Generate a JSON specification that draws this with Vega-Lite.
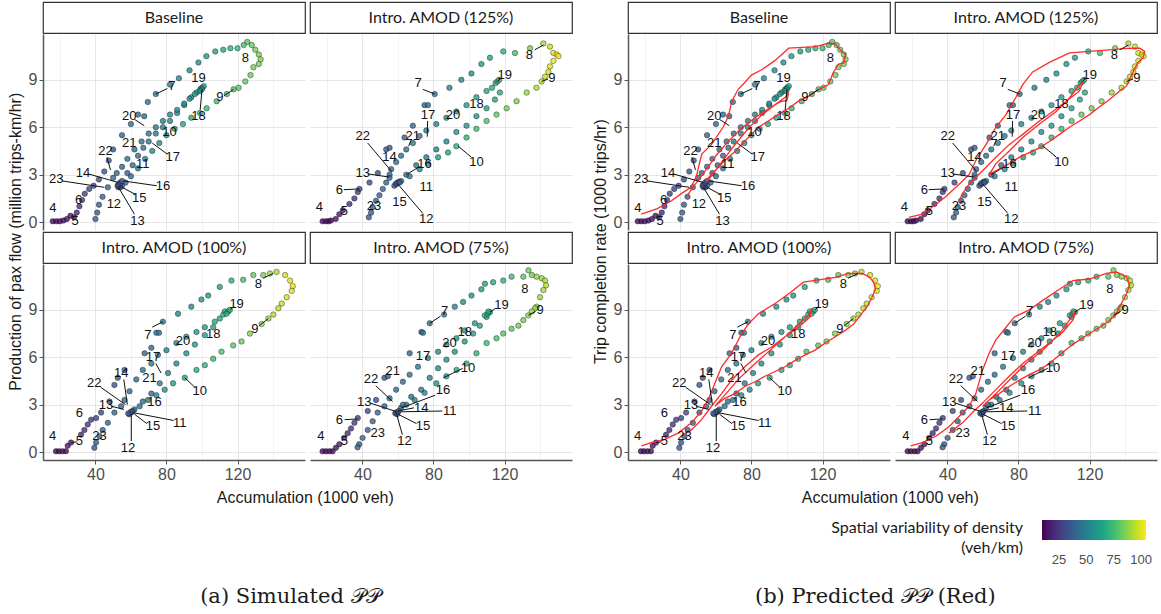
{
"$schema":"https://vega.github.io/schema/vega-lite/v6.json",
"background":"white",
"padding":{"left":8,"top":1,"right":0,"bottom":0},
"config":{"view":{"stroke":null},"axis":{"labelFont":"Liberation Sans","labelFontSize":16,"labelColor":"#4d4d4d","domainColor":"#555555","domainWidth":1.5,"tickSize":4,"tickWidth":1,"labelPadding":2,"gridWidth":0.8,"labelOverlap":false},"title":{"font":"Liberation Sans","fontWeight":"normal","color":"#1a1a1a"}},
"datasets":{
"pts":[
{"s":"B","x":16,"y":0.05,"d":12},{"s":"B","x":18,"y":0.05,"d":12},{"s":"B","x":20,"y":0.05,"d":13},{"s":"B","x":22,"y":0.1,"d":13},{"s":"B","x":24,"y":0.2,"d":14},{"s":"B","x":26,"y":0.4,"d":15},
{"s":"B","x":28,"y":0.3,"d":18},{"s":"B","x":29.5,"y":0.6,"d":21},{"s":"B","x":31,"y":1.0,"d":23},{"s":"B","x":32.5,"y":1.4,"d":25},{"s":"B","x":34,"y":1.8,"d":27},{"s":"B","x":36.5,"y":2.1,"d":29},{"s":"B","x":39,"y":2.3,"d":30},{"s":"B","x":42,"y":2.7,"d":32},{"s":"B","x":45,"y":3.2,"d":33},{"s":"B","x":47.5,"y":3.9,"d":35},{"s":"B","x":50,"y":4.6,"d":36},
{"s":"B","x":55,"y":5.5,"d":38},{"s":"B","x":60,"y":6.2,"d":40},{"s":"B","x":64,"y":6.8,"d":42},{"s":"B","x":67.5,"y":6.7,"d":43},{"s":"B","x":69.5,"y":7.6,"d":44},{"s":"B","x":74,"y":8.1,"d":46},{"s":"B","x":82,"y":8.7,"d":49},{"s":"B","x":87,"y":9.1,"d":52},
{"s":"B","x":93,"y":9.6,"d":55},{"s":"B","x":98,"y":10.1,"d":58},{"s":"B","x":102.5,"y":10.5,"d":61},{"s":"B","x":107.5,"y":10.8,"d":64},{"s":"B","x":112,"y":10.9,"d":67},{"s":"B","x":116,"y":11.0,"d":70},{"s":"B","x":120,"y":11.0,"d":73},{"s":"B","x":123.5,"y":11.2,"d":76},{"s":"B","x":125.5,"y":11.4,"d":79},{"s":"B","x":128,"y":11.2,"d":82},{"s":"B","x":130,"y":10.9,"d":84},{"s":"B","x":132,"y":10.6,"d":85},{"s":"B","x":133,"y":10.3,"d":86},
{"s":"B","x":132,"y":10.0,"d":85},{"s":"B","x":129,"y":9.8,"d":84},{"s":"B","x":127.3,"y":9.3,"d":83},{"s":"B","x":124.4,"y":8.9,"d":82},{"s":"B","x":120.6,"y":8.5,"d":80},{"s":"B","x":117.8,"y":8.4,"d":79},
{"s":"B","x":114,"y":8.1,"d":77},{"s":"B","x":108.3,"y":7.65,"d":75},{"s":"B","x":102.6,"y":7.2,"d":73},{"s":"B","x":98.8,"y":6.9,"d":71},{"s":"B","x":94,"y":6.6,"d":68},{"s":"B","x":89.3,"y":6.2,"d":66},{"s":"B","x":84.6,"y":5.9,"d":63},{"s":"B","x":80,"y":5.5,"d":60},{"s":"B","x":76,"y":5.0,"d":57},{"s":"B","x":72,"y":4.5,"d":54},{"s":"B","x":68,"y":4.0,"d":50},{"s":"B","x":64,"y":3.4,"d":46},{"s":"B","x":60,"y":2.9,"d":42},{"s":"B","x":57,"y":2.5,"d":39},
{"s":"B","x":55,"y":2.3,"d":34},{"s":"B","x":54,"y":2.2,"d":33},{"s":"B","x":53,"y":2.2,"d":32},{"s":"B","x":52.5,"y":2.3,"d":32},{"s":"B","x":53,"y":2.4,"d":33},{"s":"B","x":54,"y":2.5,"d":34},{"s":"B","x":55,"y":2.6,"d":35},
{"s":"B","x":58,"y":3.1,"d":38},{"s":"B","x":61,"y":3.6,"d":40},{"s":"B","x":64,"y":4.2,"d":42},{"s":"B","x":67,"y":4.7,"d":44},{"s":"B","x":70,"y":5.1,"d":46},{"s":"B","x":74,"y":5.6,"d":48},{"s":"B","x":78,"y":6.0,"d":50},{"s":"B","x":82,"y":6.4,"d":52},{"s":"B","x":86,"y":6.9,"d":54},{"s":"B","x":90,"y":7.4,"d":56},{"s":"B","x":94,"y":7.9,"d":58},{"s":"B","x":97,"y":8.2,"d":60},
{"s":"B","x":99,"y":8.4,"d":61},{"s":"B","x":100,"y":8.5,"d":62},{"s":"B","x":101,"y":8.6,"d":62},{"s":"B","x":100,"y":8.4,"d":61},{"s":"B","x":99,"y":8.3,"d":60},
{"s":"B","x":96,"y":8.1,"d":58},{"s":"B","x":93,"y":7.8,"d":56},{"s":"B","x":90,"y":7.5,"d":54},{"s":"B","x":86,"y":7.1,"d":52},{"s":"B","x":82,"y":6.8,"d":50},{"s":"B","x":78,"y":6.4,"d":48},{"s":"B","x":74,"y":6.0,"d":47},{"s":"B","x":70,"y":5.6,"d":46},{"s":"B","x":66,"y":5.1,"d":45},{"s":"B","x":62,"y":4.6,"d":44},{"s":"B","x":58,"y":4.0,"d":43},{"s":"B","x":55,"y":3.5,"d":42},{"s":"B","x":52,"y":3.1,"d":41},
{"s":"B","x":50,"y":2.8,"d":40},{"s":"B","x":47,"y":2.2,"d":39},{"s":"B","x":44,"y":1.6,"d":38},{"s":"B","x":42,"y":1.1,"d":37},{"s":"B","x":41,"y":0.6,"d":36},{"s":"B","x":40,"y":0.2,"d":36},

{"s":"H","x":17.6,"y":0.05,"d":12},{"s":"H","x":19.5,"y":0.05,"d":12},{"s":"H","x":21,"y":0.05,"d":13},{"s":"H","x":22.3,"y":0.1,"d":13},{"s":"H","x":25,"y":0.2,"d":14},{"s":"H","x":27,"y":0.5,"d":16},
{"s":"H","x":29,"y":0.75,"d":19},{"s":"H","x":32.7,"y":1.15,"d":22},{"s":"H","x":35.5,"y":1.5,"d":25},{"s":"H","x":37.4,"y":1.9,"d":27},{"s":"H","x":38.3,"y":2.1,"d":28},{"s":"H","x":44,"y":2.5,"d":31},{"s":"H","x":48.7,"y":3.1,"d":33},{"s":"H","x":53.4,"y":4.6,"d":35},{"s":"H","x":55.3,"y":4.7,"d":36},{"s":"H","x":63.7,"y":5.35,"d":38},{"s":"H","x":68.4,"y":6.1,"d":40},{"s":"H","x":75,"y":7.4,"d":42},{"s":"H","x":76.9,"y":7.4,"d":43},{"s":"H","x":80.7,"y":8.1,"d":45},
{"s":"H","x":89,"y":8.5,"d":50},{"s":"H","x":95.7,"y":9.0,"d":53},{"s":"H","x":101.4,"y":9.4,"d":56},{"s":"H","x":107,"y":10.0,"d":60},{"s":"H","x":111.8,"y":10.4,"d":64},{"s":"H","x":119.3,"y":10.8,"d":70},{"s":"H","x":125.9,"y":10.7,"d":76},{"s":"H","x":134.4,"y":11.0,"d":84},{"s":"H","x":141.9,"y":11.3,"d":92},{"s":"H","x":145.6,"y":11.1,"d":96},{"s":"H","x":147.5,"y":10.7,"d":100},{"s":"H","x":149.4,"y":10.6,"d":102},{"s":"H","x":150.4,"y":10.5,"d":103},
{"s":"H","x":147.5,"y":10.2,"d":101},{"s":"H","x":145.6,"y":9.85,"d":99},{"s":"H","x":144.7,"y":9.5,"d":98},{"s":"H","x":142.8,"y":9.2,"d":96},{"s":"H","x":140.9,"y":8.9,"d":95},{"s":"H","x":138,"y":8.5,"d":93},
{"s":"H","x":132.5,"y":8.2,"d":90},{"s":"H","x":126.8,"y":7.65,"d":87},{"s":"H","x":121.2,"y":7.2,"d":84},{"s":"H","x":115.5,"y":6.8,"d":81},{"s":"H","x":109.9,"y":6.4,"d":78},{"s":"H","x":104.2,"y":5.9,"d":75},{"s":"H","x":98.6,"y":5.35,"d":72},{"s":"H","x":92.9,"y":4.8,"d":69},{"s":"H","x":88.2,"y":4.4,"d":66},{"s":"H","x":82.6,"y":4.1,"d":63},{"s":"H","x":77,"y":3.7,"d":59},{"s":"H","x":72.2,"y":3.35,"d":55},{"s":"H","x":66.6,"y":2.9,"d":50},{"s":"H","x":61.8,"y":2.6,"d":44},
{"s":"H","x":60,"y":2.5,"d":36},{"s":"H","x":59,"y":2.4,"d":35},{"s":"H","x":58,"y":2.3,"d":34},{"s":"H","x":59,"y":2.45,"d":35},{"s":"H","x":60.5,"y":2.55,"d":36},{"s":"H","x":61,"y":2.5,"d":37},
{"s":"H","x":64.7,"y":3.0,"d":42},{"s":"H","x":70.3,"y":3.6,"d":45},{"s":"H","x":76,"y":4.1,"d":48},{"s":"H","x":81.6,"y":4.6,"d":51},{"s":"H","x":87.3,"y":5.1,"d":54},{"s":"H","x":92.9,"y":5.7,"d":56},{"s":"H","x":98.6,"y":6.1,"d":58},{"s":"H","x":104.2,"y":6.7,"d":61},{"s":"H","x":109.9,"y":7.2,"d":64},{"s":"H","x":114.6,"y":7.75,"d":66},{"s":"H","x":117.4,"y":8.2,"d":68},
{"s":"H","x":115,"y":8.8,"d":70},{"s":"H","x":113,"y":8.5,"d":69},{"s":"H","x":116,"y":8.9,"d":70},{"s":"H","x":117,"y":9.0,"d":71},
{"s":"H","x":109.9,"y":8.3,"d":66},{"s":"H","x":104.2,"y":7.9,"d":63},{"s":"H","x":98.6,"y":7.4,"d":60},{"s":"H","x":92.9,"y":7.0,"d":57},{"s":"H","x":87.3,"y":6.6,"d":54},{"s":"H","x":81.6,"y":6.2,"d":52},{"s":"H","x":76,"y":5.8,"d":50},{"s":"H","x":72.2,"y":5.45,"d":48},{"s":"H","x":68.4,"y":5.0,"d":46},{"s":"H","x":64.7,"y":4.6,"d":44},{"s":"H","x":61.8,"y":4.2,"d":43},{"s":"H","x":59,"y":3.8,"d":42},{"s":"H","x":56.2,"y":3.35,"d":41},{"s":"H","x":55.3,"y":3.0,"d":40},
{"s":"H","x":55.3,"y":2.8,"d":40},{"s":"H","x":53.4,"y":2.5,"d":40},{"s":"H","x":51.5,"y":2.1,"d":39},{"s":"H","x":49.6,"y":1.7,"d":39},{"s":"H","x":47.7,"y":1.35,"d":38},{"s":"H","x":45.8,"y":0.95,"d":38},{"s":"H","x":44.9,"y":0.6,"d":37},{"s":"H","x":43.6,"y":0.3,"d":37},

{"s":"F","x":17.8,"y":0.05,"d":12},{"s":"F","x":19.5,"y":0.05,"d":12},{"s":"F","x":21.5,"y":0.05,"d":13},{"s":"F","x":23.4,"y":0.06,"d":13},{"s":"F","x":24.4,"y":0.4,"d":15},{"s":"F","x":26.3,"y":0.6,"d":16},
{"s":"F","x":31.9,"y":1.1,"d":20},{"s":"F","x":33.8,"y":1.4,"d":22},{"s":"F","x":35.7,"y":1.75,"d":24},{"s":"F","x":37.6,"y":2.05,"d":26},{"s":"F","x":40.4,"y":2.15,"d":28},{"s":"F","x":43.2,"y":2.5,"d":30},{"s":"F","x":47.9,"y":3.2,"d":32},{"s":"F","x":50.7,"y":4.25,"d":34},{"s":"F","x":52.6,"y":4.7,"d":35},{"s":"F","x":56.4,"y":5.2,"d":36},{"s":"F","x":67.7,"y":6.25,"d":40},{"s":"F","x":71.5,"y":6.6,"d":41},{"s":"F","x":74.3,"y":7.55,"d":43},{"s":"F","x":75.8,"y":7.55,"d":44},{"s":"F","x":78,"y":8.25,"d":46},
{"s":"F","x":86.5,"y":8.75,"d":52},{"s":"F","x":94,"y":9.2,"d":56},{"s":"F","x":99.7,"y":9.65,"d":59},{"s":"F","x":103.5,"y":9.9,"d":61},{"s":"F","x":110,"y":10.45,"d":65},{"s":"F","x":116.6,"y":10.85,"d":70},{"s":"F","x":123.2,"y":10.9,"d":76},{"s":"F","x":128.9,"y":11.2,"d":82},{"s":"F","x":134.5,"y":11.2,"d":86},{"s":"F","x":138.3,"y":11.3,"d":90},{"s":"F","x":142,"y":11.4,"d":93},
{"s":"F","x":146.8,"y":11.2,"d":98},{"s":"F","x":149.6,"y":10.85,"d":100},{"s":"F","x":151.1,"y":10.5,"d":101},{"s":"F","x":150.5,"y":10.2,"d":100},{"s":"F","x":147.7,"y":9.8,"d":98},{"s":"F","x":144.9,"y":9.4,"d":96},{"s":"F","x":143,"y":9.1,"d":95},{"s":"F","x":140.2,"y":8.7,"d":93},{"s":"F","x":137.4,"y":8.45,"d":91},{"s":"F","x":133.6,"y":8.1,"d":89},
{"s":"F","x":127,"y":7.5,"d":86},{"s":"F","x":122.3,"y":7.0,"d":83},{"s":"F","x":117.6,"y":6.75,"d":80},{"s":"F","x":111,"y":6.35,"d":77},{"s":"F","x":106.3,"y":5.9,"d":74},{"s":"F","x":101.6,"y":5.5,"d":71},{"s":"F","x":96.9,"y":5.2,"d":68},{"s":"F","x":90.3,"y":4.7,"d":65},{"s":"F","x":83.7,"y":4.35,"d":62},{"s":"F","x":79,"y":3.95,"d":58},{"s":"F","x":74.3,"y":3.6,"d":54},{"s":"F","x":69.6,"y":3.3,"d":50},{"s":"F","x":64.9,"y":2.9,"d":45},{"s":"F","x":62,"y":2.7,"d":41},
{"s":"F","x":60.2,"y":2.5,"d":36},{"s":"F","x":59,"y":2.4,"d":35},{"s":"F","x":61,"y":2.6,"d":36},{"s":"F","x":60,"y":2.55,"d":35},{"s":"F","x":58.5,"y":2.45,"d":35},
{"s":"F","x":66.7,"y":3.2,"d":42},{"s":"F","x":71.5,"y":3.7,"d":45},{"s":"F","x":76.2,"y":4.35,"d":48},{"s":"F","x":80.9,"y":5.0,"d":51},{"s":"F","x":85.6,"y":5.6,"d":54},{"s":"F","x":91.2,"y":6.25,"d":57},{"s":"F","x":96,"y":6.8,"d":60},{"s":"F","x":101.6,"y":7.4,"d":63},{"s":"F","x":106.3,"y":7.9,"d":65},{"s":"F","x":110,"y":8.45,"d":67},{"s":"F","x":112.9,"y":8.9,"d":69},
{"s":"F","x":112,"y":8.7,"d":69},{"s":"F","x":114.8,"y":8.9,"d":70},{"s":"F","x":115.7,"y":9.0,"d":70},{"s":"F","x":113.8,"y":8.75,"d":69},
{"s":"F","x":107.2,"y":8.25,"d":66},{"s":"F","x":101.6,"y":7.9,"d":63},{"s":"F","x":96.9,"y":7.6,"d":60},{"s":"F","x":91.2,"y":7.3,"d":57},{"s":"F","x":85.6,"y":6.9,"d":54},{"s":"F","x":80,"y":6.45,"d":51},{"s":"F","x":75.2,"y":6.15,"d":49},{"s":"F","x":71.5,"y":5.6,"d":47},{"s":"F","x":66.7,"y":5.2,"d":45},{"s":"F","x":63,"y":4.6,"d":43},{"s":"F","x":59.2,"y":3.85,"d":42},{"s":"F","x":56.4,"y":3.3,"d":41},
{"s":"F","x":54.5,"y":2.9,"d":40},{"s":"F","x":50.7,"y":2.5,"d":40},{"s":"F","x":47,"y":1.85,"d":39},{"s":"F","x":44.1,"y":1.4,"d":38},{"s":"F","x":42.3,"y":1.0,"d":38},{"s":"F","x":40.4,"y":0.6,"d":37},{"s":"F","x":39.4,"y":0.27,"d":37},

{"s":"S","x":17.6,"y":0.05,"d":12},{"s":"S","x":19.5,"y":0.05,"d":12},{"s":"S","x":21.5,"y":0.05,"d":13},{"s":"S","x":23.2,"y":0.05,"d":13},{"s":"S","x":25.1,"y":0.27,"d":14},{"s":"S","x":27,"y":0.5,"d":16},
{"s":"S","x":29.8,"y":0.9,"d":19},{"s":"S","x":31.7,"y":1.2,"d":21},{"s":"S","x":33.6,"y":1.5,"d":23},{"s":"S","x":35.5,"y":1.85,"d":25},{"s":"S","x":37.4,"y":2.15,"d":27},{"s":"S","x":43,"y":2.6,"d":30},{"s":"S","x":47.7,"y":3.3,"d":32},{"s":"S","x":52.4,"y":4.7,"d":35},{"s":"S","x":54.3,"y":4.8,"d":36},{"s":"S","x":66.6,"y":6.25,"d":40},{"s":"S","x":73.2,"y":7.6,"d":42},{"s":"S","x":74.1,"y":7.55,"d":43},{"s":"S","x":77.9,"y":8.15,"d":45},
{"s":"S","x":86,"y":8.7,"d":49},{"s":"S","x":92,"y":9.2,"d":52},{"s":"S","x":96.7,"y":9.5,"d":55},{"s":"S","x":101.4,"y":9.9,"d":58},{"s":"S","x":107,"y":10.3,"d":62},{"s":"S","x":109,"y":10.65,"d":64},{"s":"S","x":113.6,"y":10.75,"d":67},{"s":"S","x":119.3,"y":10.85,"d":71},{"s":"S","x":124,"y":11.1,"d":75},{"s":"S","x":130.6,"y":11.1,"d":80},{"s":"S","x":133.5,"y":11.5,"d":83},{"s":"S","x":135.4,"y":11.2,"d":85},{"s":"S","x":138.1,"y":11.1,"d":88},{"s":"S","x":141,"y":11.0,"d":90},{"s":"S","x":142.8,"y":10.85,"d":92},{"s":"S","x":143.4,"y":10.55,"d":93},
{"s":"S","x":141.9,"y":10.25,"d":92},{"s":"S","x":140,"y":9.8,"d":91},{"s":"S","x":138.1,"y":9.2,"d":90},{"s":"S","x":137.2,"y":9.1,"d":89},{"s":"S","x":135.4,"y":8.9,"d":88},{"s":"S","x":133.4,"y":8.65,"d":87},{"s":"S","x":130.6,"y":8.35,"d":85},
{"s":"S","x":127.8,"y":8.0,"d":83},{"s":"S","x":124,"y":7.8,"d":81},{"s":"S","x":119.3,"y":7.5,"d":79},{"s":"S","x":115.5,"y":7.2,"d":77},{"s":"S","x":109.9,"y":6.9,"d":74},{"s":"S","x":104.2,"y":6.25,"d":71},{"s":"S","x":98.6,"y":5.6,"d":68},{"s":"S","x":93,"y":5.2,"d":65},{"s":"S","x":87.3,"y":4.8,"d":62},{"s":"S","x":81.6,"y":4.35,"d":58},{"s":"S","x":75,"y":3.75,"d":54},{"s":"S","x":69.4,"y":3.3,"d":50},{"s":"S","x":64.7,"y":3.0,"d":45},{"s":"S","x":61.8,"y":2.8,"d":41},
{"s":"S","x":59,"y":2.5,"d":35},{"s":"S","x":60,"y":2.55,"d":36},{"s":"S","x":58.5,"y":2.45,"d":35},{"s":"S","x":60.5,"y":2.6,"d":36},{"s":"S","x":59.5,"y":2.4,"d":35},
{"s":"S","x":62.8,"y":3.0,"d":41},{"s":"S","x":67.5,"y":3.5,"d":44},{"s":"S","x":73.1,"y":3.95,"d":47},{"s":"S","x":77.9,"y":4.7,"d":50},{"s":"S","x":82.6,"y":5.3,"d":53},{"s":"S","x":87.3,"y":5.85,"d":56},{"s":"S","x":92,"y":6.35,"d":58},{"s":"S","x":97.6,"y":7.0,"d":61},{"s":"S","x":102.3,"y":7.5,"d":63},{"s":"S","x":106.1,"y":8.0,"d":65},{"s":"S","x":109.9,"y":8.55,"d":67},{"s":"S","x":111.8,"y":8.85,"d":68},
{"s":"S","x":108.9,"y":8.65,"d":67},{"s":"S","x":110.5,"y":8.75,"d":68},{"s":"S","x":111,"y":8.9,"d":68},
{"s":"S","x":103.3,"y":8.15,"d":64},{"s":"S","x":97.6,"y":7.7,"d":61},{"s":"S","x":92.9,"y":7.2,"d":58},{"s":"S","x":87.3,"y":6.8,"d":55},{"s":"S","x":82.6,"y":6.35,"d":52},{"s":"S","x":76.9,"y":5.95,"d":50},{"s":"S","x":71.3,"y":5.4,"d":47},{"s":"S","x":66.6,"y":4.9,"d":45},{"s":"S","x":62.8,"y":4.45,"d":43},{"s":"S","x":59,"y":3.95,"d":42},{"s":"S","x":55.3,"y":3.4,"d":41},
{"s":"S","x":52.4,"y":2.9,"d":40},{"s":"S","x":48.6,"y":2.5,"d":40},{"s":"S","x":45.8,"y":1.95,"d":39},{"s":"S","x":43,"y":1.4,"d":38},{"s":"S","x":40.1,"y":0.9,"d":38},{"s":"S","x":38.2,"y":0.5,"d":37},{"s":"S","x":37.3,"y":0.3,"d":37}
],
"lbl":[
{"s":"B","h":"4","x":16,"y":0.9},{"s":"B","h":"5","x":28.6,"y":0.05},{"s":"B","h":"6","x":30.5,"y":1.4},
{"s":"B","h":"7","x":83,"y":8.6,"px":74,"py":8.1,"ex":80.5,"ey":8.45},{"s":"B","h":"8","x":124.4,"y":10.4},
{"s":"B","h":"9","x":110,"y":7.9,"px":117.8,"py":8.4,"ex":112.5,"ey":8.0},{"s":"B","h":"10","x":81.7,"y":5.7},{"s":"B","h":"11","x":66.6,"y":3.7},{"s":"B","h":"12","x":50.4,"y":1.15},
{"s":"B","h":"13","x":63.7,"y":0.1,"px":53,"py":2.2,"ex":62,"ey":0.5},{"s":"B","h":"14","x":33,"y":3.1,"px":53,"py":2.5,"ex":36,"ey":3.05},
{"s":"B","h":"15","x":64.7,"y":1.5,"px":55,"py":2.2,"ex":62.5,"ey":1.75},{"s":"B","h":"16","x":78,"y":2.3,"px":56,"py":2.6,"ex":74.5,"ey":2.3},
{"s":"B","h":"17","x":83.6,"y":4.1,"px":72,"py":5.0,"ex":80.5,"ey":4.3},{"s":"B","h":"18","x":98,"y":6.7,"px":100,"py":8.4,"ex":99,"ey":7.1},{"s":"B","h":"19","x":98,"y":9.1},
{"s":"B","h":"20","x":59,"y":6.7,"px":67.5,"py":6.1,"ex":62,"ey":6.5},{"s":"B","h":"21","x":59,"y":5.0},{"s":"B","h":"22","x":45.7,"y":4.5,"px":48.5,"py":3.3,"ex":46.5,"ey":4.1},
{"s":"B","h":"23","x":18,"y":2.7,"px":45,"py":2.2,"ex":21.5,"ey":2.6},

{"s":"H","h":"4","x":15.7,"y":0.95},{"s":"H","h":"5","x":29.8,"y":0.73},{"s":"H","h":"6","x":27,"y":2.0,"px":38.3,"py":2.1,"ex":29.5,"ey":2.05},
{"s":"H","h":"7","x":71.3,"y":8.8,"px":80.7,"py":8.1,"ex":74,"ey":8.4},{"s":"H","h":"8","x":134,"y":10.6,"px":141.9,"py":11.2,"ex":137,"ey":10.9},
{"s":"H","h":"9","x":146.6,"y":9.1,"px":140.9,"py":8.9,"ex":144.5,"ey":9.05},{"s":"H","h":"10","x":104.2,"y":3.8,"px":93.9,"py":4.8,"ex":101.4,"ey":4.1},
{"s":"H","h":"11","x":76,"y":2.2},{"s":"H","h":"12","x":76,"y":0.2,"px":60,"py":2.4,"ex":74,"ey":0.55},{"s":"H","h":"13","x":40.2,"y":3.1,"px":55,"py":2.85,"ex":43,"ey":3.05},
{"s":"H","h":"14","x":55.3,"y":4.1},{"s":"H","h":"15","x":60.9,"y":1.25},{"s":"H","h":"16","x":75,"y":3.7,"px":64.7,"py":3.0,"ex":72,"ey":3.5},
{"s":"H","h":"17","x":76.9,"y":6.8,"px":76.5,"py":5.4,"ex":76.7,"ey":6.4},{"s":"H","h":"18","x":104.2,"y":7.45},{"s":"H","h":"19","x":120.2,"y":9.3,"px":116,"py":8.9,"ex":118,"ey":9.1},
{"s":"H","h":"20","x":91,"y":6.8},{"s":"H","h":"21","x":68.4,"y":5.45,"px":66,"py":4.8,"ex":67.5,"ey":5.2},{"s":"H","h":"22","x":40.2,"y":5.45,"px":56.5,"py":3.2,"ex":43,"ey":5.0},{"s":"H","h":"23","x":46.5,"y":1.0},

{"s":"F","h":"4","x":15.9,"y":1.0},{"s":"F","h":"5","x":31,"y":0.7,"px":26.3,"py":0.6,"ex":29.5,"ey":0.65},{"s":"F","h":"6","x":31,"y":2.5},
{"s":"F","h":"7","x":69.6,"y":7.4,"px":78,"py":8.25,"ex":72,"ey":7.9},{"s":"F","h":"8","x":131.7,"y":10.65,"px":140,"py":11.3,"ex":134.5,"ey":11.0},
{"s":"F","h":"9","x":129.8,"y":7.8,"px":137.4,"py":8.45,"ex":132.3,"ey":8.0},{"s":"F","h":"10","x":98.8,"y":3.85,"px":90.3,"py":4.7,"ex":96,"ey":4.1},
{"s":"F","h":"11","x":87.5,"y":1.85,"px":61,"py":2.5,"ex":84,"ey":2.0},{"s":"F","h":"12","x":58.3,"y":0.27,"px":60.2,"py":2.4,"ex":60.2,"ey":0.7},
{"s":"F","h":"13","x":46,"y":3.0,"px":56,"py":2.7,"ex":49,"ey":2.9},{"s":"F","h":"14","x":54.5,"y":5.0,"px":58,"py":3.0,"ex":56,"ey":4.6},
{"s":"F","h":"15","x":72.4,"y":1.65,"px":62,"py":2.4,"ex":69,"ey":1.8},{"s":"F","h":"16","x":73.3,"y":3.2},
{"s":"F","h":"17","x":72.4,"y":6.0,"px":77,"py":5.0,"ex":74,"ey":5.6},{"s":"F","h":"18","x":106.3,"y":7.45},{"s":"F","h":"19","x":119.5,"y":9.4,"px":116,"py":9.0,"ex":117.5,"ey":9.2},
{"s":"F","h":"20","x":89.3,"y":7.0},{"s":"F","h":"21","x":70.5,"y":4.7},{"s":"F","h":"22","x":39.4,"y":4.35,"px":57,"py":3.0,"ex":43,"ey":4.1},{"s":"F","h":"23","x":42.3,"y":1.0},

{"s":"S","h":"4","x":16.6,"y":1.0},{"s":"S","h":"5","x":29.8,"y":0.7},{"s":"S","h":"6","x":27,"y":2.05,"px":37.4,"py":2.1,"ex":30,"ey":2.05},
{"s":"S","h":"7","x":86.3,"y":8.9,"px":77.9,"py":8.15,"ex":84,"ey":8.6},{"s":"S","h":"8","x":131.5,"y":10.3},
{"s":"S","h":"9","x":140,"y":9.0,"px":133.4,"py":8.65,"ex":137.5,"ey":8.9},{"s":"S","h":"10","x":99.5,"y":5.3,"px":85.6,"py":4.7,"ex":96.5,"ey":5.3},
{"s":"S","h":"11","x":89.2,"y":2.6,"px":62,"py":2.55,"ex":85,"ey":2.6},{"s":"S","h":"12","x":63.7,"y":0.7,"px":59,"py":2.5,"ex":62.5,"ey":1.1},
{"s":"S","h":"13","x":41.1,"y":3.2,"px":58,"py":2.6,"ex":44.5,"ey":3.1},{"s":"S","h":"14","x":73.1,"y":2.8,"px":60,"py":2.6,"ex":69,"ey":2.8},
{"s":"S","h":"15","x":74.1,"y":1.65,"px":60,"py":2.4,"ex":70.5,"ey":1.8},{"s":"S","h":"16","x":85.4,"y":3.95,"px":62,"py":2.8,"ex":81,"ey":3.6},
{"s":"S","h":"17","x":74.1,"y":6.05},{"s":"S","h":"18","x":97.6,"y":7.6},{"s":"S","h":"19","x":118.3,"y":9.3,"px":111.8,"py":8.85,"ex":115,"ey":9.1},
{"s":"S","h":"20","x":89,"y":6.9},{"s":"S","h":"21","x":57.1,"y":5.1},{"s":"S","h":"22","x":44.9,"y":4.6,"px":57,"py":3.2,"ex":47.5,"ey":4.2},{"s":"S","h":"23","x":48.6,"y":1.2}
],
"red":[
{"s":"B","i":1,"x":18,"y":0.5},{"s":"B","i":2,"x":27,"y":0.85},{"s":"B","i":3,"x":35,"y":1.35},{"s":"B","i":4,"x":40.5,"y":1.8},{"s":"B","i":5,"x":46,"y":2.2},{"s":"B","i":6,"x":49,"y":2.9},{"s":"B","i":7,"x":52,"y":4.3},{"s":"B","i":8,"x":57.5,"y":4.9},{"s":"B","i":9,"x":64,"y":6.0},{"s":"B","i":10,"x":67,"y":6.7},{"s":"B","i":11,"x":69,"y":7.65},{"s":"B","i":12,"x":72.5,"y":8.4},{"s":"B","i":13,"x":76,"y":8.8},{"s":"B","i":14,"x":80,"y":9.3},{"s":"B","i":15,"x":86,"y":9.65},{"s":"B","i":16,"x":93,"y":10.2},{"s":"B","i":17,"x":101,"y":11.0},{"s":"B","i":18,"x":116,"y":11.1},{"s":"B","i":19,"x":123,"y":11.3},{"s":"B","i":20,"x":127,"y":11.3},{"s":"B","i":21,"x":130,"y":10.9},{"s":"B","i":22,"x":133,"y":10.6},{"s":"B","i":23,"x":132,"y":10.05},{"s":"B","i":24,"x":129,"y":10.0},{"s":"B","i":25,"x":126,"y":9.45},{"s":"B","i":26,"x":123.4,"y":8.7},{"s":"B","i":27,"x":118,"y":8.4},{"s":"B","i":28,"x":112,"y":7.95},{"s":"B","i":29,"x":106.5,"y":7.65},{"s":"B","i":30,"x":101,"y":7.2},{"s":"B","i":31,"x":95,"y":6.8},{"s":"B","i":32,"x":89.5,"y":6.4},{"s":"B","i":33,"x":84,"y":6.0},{"s":"B","i":34,"x":80,"y":5.55},{"s":"B","i":35,"x":76,"y":5.1},{"s":"B","i":36,"x":71,"y":4.5},{"s":"B","i":37,"x":65,"y":3.9},{"s":"B","i":38,"x":59.5,"y":3.25},{"s":"B","i":39,"x":54,"y":2.6},{"s":"B","i":40,"x":56,"y":2.7},{"s":"B","i":41,"x":62,"y":3.6},{"s":"B","i":42,"x":70,"y":4.8},{"s":"B","i":43,"x":78,"y":5.9},{"s":"B","i":44,"x":86,"y":6.8},{"s":"B","i":45,"x":93,"y":7.4},{"s":"B","i":46,"x":99,"y":7.9},{"s":"B","i":47,"x":101,"y":8.2},{"s":"B","i":48,"x":100,"y":7.7},{"s":"B","i":49,"x":96,"y":7.6},{"s":"B","i":50,"x":90,"y":7.2},{"s":"B","i":51,"x":82,"y":6.6},{"s":"B","i":52,"x":74,"y":5.9},{"s":"B","i":53,"x":66,"y":5.0},{"s":"B","i":54,"x":60,"y":4.2},{"s":"B","i":55,"x":55,"y":3.4},{"s":"B","i":56,"x":51,"y":2.8},{"s":"B","i":57,"x":47,"y":2.2},{"s":"B","i":58,"x":44,"y":1.7},

{"s":"H","i":1,"x":18.3,"y":0.3},{"s":"H","i":2,"x":25.9,"y":0.5},{"s":"H","i":3,"x":31.5,"y":0.95},{"s":"H","i":4,"x":39,"y":1.6},{"s":"H","i":5,"x":46.6,"y":2.4},{"s":"H","i":6,"x":52.2,"y":3.0},{"s":"H","i":7,"x":56,"y":3.9},{"s":"H","i":8,"x":61.7,"y":4.9},{"s":"H","i":9,"x":67.3,"y":6.0},{"s":"H","i":10,"x":73,"y":6.8},{"s":"H","i":11,"x":78.6,"y":7.9},{"s":"H","i":12,"x":82.4,"y":8.7},{"s":"H","i":13,"x":88,"y":9.5},{"s":"H","i":14,"x":97.4,"y":10.1},{"s":"H","i":15,"x":108.7,"y":10.7},{"s":"H","i":16,"x":120,"y":10.8},{"s":"H","i":17,"x":131.3,"y":10.9},{"s":"H","i":18,"x":142.6,"y":11.0},{"s":"H","i":19,"x":148.3,"y":11.0},{"s":"H","i":20,"x":151.1,"y":10.8},{"s":"H","i":21,"x":150.2,"y":10.4},{"s":"H","i":22,"x":147.3,"y":10.1},{"s":"H","i":23,"x":144.5,"y":9.5},{"s":"H","i":24,"x":140.8,"y":8.6},{"s":"H","i":25,"x":137,"y":8.3},{"s":"H","i":26,"x":131.3,"y":7.75},{"s":"H","i":27,"x":125.7,"y":7.3},{"s":"H","i":28,"x":120,"y":6.8},{"s":"H","i":29,"x":114.4,"y":6.4},{"s":"H","i":30,"x":108.7,"y":6.0},{"s":"H","i":31,"x":103.1,"y":5.55},{"s":"H","i":32,"x":97.4,"y":5.1},{"s":"H","i":33,"x":91.8,"y":4.7},{"s":"H","i":34,"x":86.1,"y":4.4},{"s":"H","i":35,"x":80.5,"y":4.1},{"s":"H","i":36,"x":74.8,"y":3.7},{"s":"H","i":37,"x":67.3,"y":3.25},{"s":"H","i":38,"x":63.5,"y":3.0},{"s":"H","i":39,"x":67.3,"y":3.7},{"s":"H","i":40,"x":74.8,"y":4.5},{"s":"H","i":41,"x":82.4,"y":5.35},{"s":"H","i":42,"x":91.8,"y":6.2},{"s":"H","i":43,"x":101.2,"y":7.0},{"s":"H","i":44,"x":108.7,"y":7.85},{"s":"H","i":45,"x":114.4,"y":8.7},{"s":"H","i":46,"x":116.3,"y":8.9},{"s":"H","i":47,"x":114.4,"y":8.3},{"s":"H","i":48,"x":106.9,"y":7.65},{"s":"H","i":49,"x":99.3,"y":7.0},{"s":"H","i":50,"x":91.8,"y":6.4},{"s":"H","i":51,"x":82.4,"y":5.55},{"s":"H","i":52,"x":74.8,"y":4.9},{"s":"H","i":53,"x":67.3,"y":4.1},{"s":"H","i":54,"x":59.8,"y":3.25},{"s":"H","i":55,"x":52.2,"y":2.4},{"s":"H","i":56,"x":48.5,"y":1.8},{"s":"H","i":57,"x":46.6,"y":1.35},

{"s":"F","i":1,"x":18,"y":0.4},{"s":"F","i":2,"x":23.6,"y":0.6},{"s":"F","i":3,"x":31.1,"y":0.8},{"s":"F","i":4,"x":38.7,"y":1.2},{"s":"F","i":5,"x":46.2,"y":1.85},{"s":"F","i":6,"x":51.9,"y":2.6},{"s":"F","i":7,"x":55.6,"y":3.3},{"s":"F","i":8,"x":59.4,"y":4.35},{"s":"F","i":9,"x":63.2,"y":5.4},{"s":"F","i":10,"x":68.8,"y":6.25},{"s":"F","i":11,"x":74.5,"y":7.5},{"s":"F","i":12,"x":78.2,"y":8.1},{"s":"F","i":13,"x":83.9,"y":8.75},{"s":"F","i":14,"x":93.3,"y":9.4},{"s":"F","i":15,"x":100.8,"y":10.0},{"s":"F","i":16,"x":109.3,"y":10.75},{"s":"F","i":17,"x":117.8,"y":10.9},{"s":"F","i":18,"x":127.2,"y":11.05},{"s":"F","i":19,"x":134.7,"y":11.3},{"s":"F","i":20,"x":142.3,"y":11.3},{"s":"F","i":21,"x":146,"y":11.1},{"s":"F","i":22,"x":148.8,"y":10.75},{"s":"F","i":23,"x":149.8,"y":10.3},{"s":"F","i":24,"x":147.9,"y":9.8},{"s":"F","i":25,"x":145.1,"y":9.2},{"s":"F","i":26,"x":141.3,"y":8.65},{"s":"F","i":27,"x":137.6,"y":8.1},{"s":"F","i":28,"x":132.8,"y":7.7},{"s":"F","i":29,"x":127.2,"y":7.3},{"s":"F","i":30,"x":121.5,"y":6.9},{"s":"F","i":31,"x":115.9,"y":6.45},{"s":"F","i":32,"x":110.2,"y":6.15},{"s":"F","i":33,"x":104.6,"y":5.8},{"s":"F","i":34,"x":98.9,"y":5.4},{"s":"F","i":35,"x":93.3,"y":5.1},{"s":"F","i":36,"x":87.6,"y":4.8},{"s":"F","i":37,"x":82,"y":4.45},{"s":"F","i":38,"x":76.3,"y":4.15},{"s":"F","i":39,"x":70.7,"y":3.7},{"s":"F","i":40,"x":65,"y":3.4},{"s":"F","i":41,"x":59.4,"y":2.9},{"s":"F","i":42,"x":65,"y":3.6},{"s":"F","i":43,"x":72.6,"y":4.6},{"s":"F","i":44,"x":80.1,"y":5.4},{"s":"F","i":45,"x":87.6,"y":6.15},{"s":"F","i":46,"x":97.1,"y":7.1},{"s":"F","i":47,"x":104.6,"y":7.9},{"s":"F","i":48,"x":112.1,"y":8.65},{"s":"F","i":49,"x":114,"y":9.1},{"s":"F","i":50,"x":113,"y":8.55},{"s":"F","i":51,"x":106.5,"y":7.9},{"s":"F","i":52,"x":98.9,"y":7.3},{"s":"F","i":53,"x":91.4,"y":6.65},{"s":"F","i":54,"x":83.9,"y":6.15},{"s":"F","i":55,"x":76.3,"y":5.4},{"s":"F","i":56,"x":68.8,"y":4.55},{"s":"F","i":57,"x":63.2,"y":3.7},{"s":"F","i":58,"x":57.5,"y":2.9},{"s":"F","i":59,"x":51.9,"y":2.05},{"s":"F","i":60,"x":46.2,"y":1.4},{"s":"F","i":61,"x":40.6,"y":1.0},

{"s":"S","i":1,"x":19.3,"y":0.4},{"s":"S","i":2,"x":25.9,"y":0.6},{"s":"S","i":3,"x":33.4,"y":1.0},{"s":"S","i":4,"x":40.9,"y":1.6},{"s":"S","i":5,"x":46.6,"y":2.25},{"s":"S","i":6,"x":52.2,"y":2.9},{"s":"S","i":7,"x":56,"y":3.7},{"s":"S","i":8,"x":59.8,"y":5.2},{"s":"S","i":9,"x":63.5,"y":6.25},{"s":"S","i":10,"x":67.3,"y":7.1},{"s":"S","i":11,"x":73,"y":7.9},{"s":"S","i":12,"x":77.7,"y":8.55},{"s":"S","i":13,"x":86.1,"y":9.0},{"s":"S","i":14,"x":93.7,"y":9.6},{"s":"S","i":15,"x":103.1,"y":10.3},{"s":"S","i":16,"x":110.6,"y":10.85},{"s":"S","i":17,"x":120,"y":10.95},{"s":"S","i":18,"x":129.5,"y":11.3},{"s":"S","i":19,"x":135.1,"y":11.4},{"s":"S","i":20,"x":140.8,"y":11.1},{"s":"S","i":21,"x":142.6,"y":10.55},{"s":"S","i":22,"x":140.8,"y":10.0},{"s":"S","i":23,"x":137.9,"y":9.4},{"s":"S","i":24,"x":135.1,"y":8.75},{"s":"S","i":25,"x":130.4,"y":8.25},{"s":"S","i":26,"x":125.7,"y":7.9},{"s":"S","i":27,"x":120,"y":7.5},{"s":"S","i":28,"x":114.4,"y":7.1},{"s":"S","i":29,"x":108.7,"y":6.65},{"s":"S","i":30,"x":103.1,"y":6.15},{"s":"S","i":31,"x":97.4,"y":5.6},{"s":"S","i":32,"x":91.8,"y":5.2},{"s":"S","i":33,"x":86.1,"y":4.9},{"s":"S","i":34,"x":80.5,"y":4.55},{"s":"S","i":35,"x":74.8,"y":4.15},{"s":"S","i":36,"x":69.2,"y":3.7},{"s":"S","i":37,"x":63.5,"y":3.3},{"s":"S","i":38,"x":59.8,"y":2.9},{"s":"S","i":39,"x":67.3,"y":3.7},{"s":"S","i":40,"x":74.8,"y":4.55},{"s":"S","i":41,"x":84.3,"y":5.6},{"s":"S","i":42,"x":93.7,"y":6.45},{"s":"S","i":43,"x":103.1,"y":7.5},{"s":"S","i":44,"x":108.7,"y":8.35},{"s":"S","i":45,"x":112.5,"y":9.0},{"s":"S","i":46,"x":110.6,"y":8.35},{"s":"S","i":47,"x":105,"y":7.6},{"s":"S","i":48,"x":97.4,"y":6.9},{"s":"S","i":49,"x":89.9,"y":6.25},{"s":"S","i":50,"x":82.4,"y":5.6},{"s":"S","i":51,"x":74.8,"y":4.8},{"s":"S","i":52,"x":67.3,"y":3.95},{"s":"S","i":53,"x":59.8,"y":3.1},{"s":"S","i":54,"x":54.1,"y":2.5},{"s":"S","i":55,"x":48.5,"y":1.85},{"s":"S","i":56,"x":40.9,"y":1.2}
]
},
"hconcat":[
{"title":{"text":"(a) Simulated 𝒫𝒫","orient":"bottom","font":"DejaVu Serif","fontSize":21,"offset":80,"anchor":"middle"},
 "vconcat":[{"title":{"text":"Accumulation (1000 veh)","orient":"bottom","fontSize":16,"offset":8,"anchor":"middle","dx":15},
  "vconcat":[{"title":{"text":"Production of pax flow (million trips-km/hr)","orient":"left","fontSize":16,"offset":4,"anchor":"middle"},
   "spacing":0,
   "vconcat":[
    {"spacing":3,"hconcat":[
     {"spacing":0,"vconcat":[
      {"width":262,"height":31,"view":{"stroke":"#333333","strokeWidth":1.2},"data":{"values":[{"t":"Baseline"}]},"mark":{"type":"text","x":131,"y":16,"font":"Lato","fontSize":16,"align":"center","baseline":"middle","color":"#1a1a1a"},"encoding":{"text":{"field":"t"}}},
      {"width":262,"height":196,"layer":[
       {"data":{"name":"pts"},"transform":[{"filter":"datum.s==='B'"}],"mark":{"type":"circle","size":30,"stroke":"#111111","strokeWidth":0.5,"fillOpacity":0.8,"strokeOpacity":0.8},
        "encoding":{"x":{"field":"x","type":"quantitative","scale":{"domain":[10.5,158],"nice":false,"zero":false},"axis":{"title":null,"values":[20,40,60,80,100,120,140],"labels":false,"ticks":false,"domain":false,"gridColor":{"condition":{"test":"datum.value % 40 === 0","value":"#e0e0e0"},"value":"#f0f0f0"}}},
         "y":{"field":"y","type":"quantitative","scale":{"domain":[-0.5,11.9],"nice":false,"zero":false},"axis":{"title":null,"values":[0,1.5,3,4.5,6,7.5,9,10.5],"labelExpr":"datum.value % 3 === 0 ? datum.label : ''","gridColor":{"condition":{"test":"datum.value % 3 === 0","value":"#e0e0e0"},"value":"#f0f0f0"},"tickColor":{"condition":{"test":"datum.value % 3 === 0","value":"#555555"},"value":"transparent"}}},
         "color":{"field":"d","type":"quantitative","scale":{"scheme":"viridis","domain":[9.5,104.5],"nice":false,"clamp":true},"legend":{"orient":"none","legendX":787,"legendY":518,"padding":0,"direction":"horizontal","title":["Spatial variability of density","(veh/km)"],"titleOrient":"left","titleAlign":"right","titleBaseline":"top","titleLimit":400,"titleFont":"Lato","titleFontSize":16,"titleFontWeight":"normal","titleColor":"#1a1a1a","titleLineHeight":20,"titlePadding":-174,"gradientLength":104,"gradientThickness":20,"values":[25,50,75,100],"labelFont":"Liberation Sans","labelFontSize":13,"labelColor":"#4d4d4d","labelOffset":14}}}},
       {"data":{"name":"lbl"},"transform":[{"filter":"datum.s==='B' && isValid(datum.px)"}],"mark":{"type":"rule","color":"#111111","strokeWidth":1},"encoding":{"x":{"field":"px","type":"quantitative","scale":{"domain":[10.5,158],"nice":false,"zero":false}},"y":{"field":"py","type":"quantitative","scale":{"domain":[-0.5,11.9],"nice":false,"zero":false}},"x2":{"field":"ex"},"y2":{"field":"ey"}}},
       {"data":{"name":"lbl"},"transform":[{"filter":"datum.s==='B'"}],"mark":{"type":"text","font":"Liberation Sans","fontSize":13,"color":"#111111"},"encoding":{"x":{"field":"x","type":"quantitative","scale":{"domain":[10.5,158],"nice":false,"zero":false}},"y":{"field":"y","type":"quantitative","scale":{"domain":[-0.5,11.9],"nice":false,"zero":false}},"text":{"field":"h"}}}
      ]}
     ]},
     {"spacing":0,"vconcat":[
      {"width":262,"height":31,"view":{"stroke":"#333333","strokeWidth":1.2},"data":{"values":[{"t":"Intro. AMOD (125%)"}]},"mark":{"type":"text","x":131,"y":16,"font":"Lato","fontSize":16,"align":"center","baseline":"middle","color":"#1a1a1a"},"encoding":{"text":{"field":"t"}}},
      {"width":262,"height":196,"layer":[
       {"data":{"name":"pts"},"transform":[{"filter":"datum.s==='H'"}],"mark":{"type":"circle","size":30,"stroke":"#111111","strokeWidth":0.5,"fillOpacity":0.8,"strokeOpacity":0.8},
        "encoding":{"x":{"field":"x","type":"quantitative","scale":{"domain":[10.5,158],"nice":false,"zero":false},"axis":{"title":null,"values":[20,40,60,80,100,120,140],"labels":false,"ticks":false,"domain":false,"gridColor":{"condition":{"test":"datum.value % 40 === 0","value":"#e0e0e0"},"value":"#f0f0f0"}}},
         "y":{"field":"y","type":"quantitative","scale":{"domain":[-0.5,11.9],"nice":false,"zero":false},"axis":{"title":null,"values":[0,1.5,3,4.5,6,7.5,9,10.5],"labels":false,"ticks":false,"domain":false,"gridColor":{"condition":{"test":"datum.value % 3 === 0","value":"#e0e0e0"},"value":"#f0f0f0"}}},
         "color":{"field":"d","type":"quantitative","scale":{"scheme":"viridis","domain":[9.5,104.5],"nice":false,"clamp":true}}}},
       {"data":{"name":"lbl"},"transform":[{"filter":"datum.s==='H' && isValid(datum.px)"}],"mark":{"type":"rule","color":"#111111","strokeWidth":1},"encoding":{"x":{"field":"px","type":"quantitative","scale":{"domain":[10.5,158],"nice":false,"zero":false}},"y":{"field":"py","type":"quantitative","scale":{"domain":[-0.5,11.9],"nice":false,"zero":false}},"x2":{"field":"ex"},"y2":{"field":"ey"}}},
       {"data":{"name":"lbl"},"transform":[{"filter":"datum.s==='H'"}],"mark":{"type":"text","font":"Liberation Sans","fontSize":13,"color":"#111111"},"encoding":{"x":{"field":"x","type":"quantitative","scale":{"domain":[10.5,158],"nice":false,"zero":false}},"y":{"field":"y","type":"quantitative","scale":{"domain":[-0.5,11.9],"nice":false,"zero":false}},"text":{"field":"h"}}}
      ]}
     ]}
    ]},
    {"spacing":3,"hconcat":[
     {"spacing":0,"vconcat":[
      {"width":262,"height":31,"view":{"stroke":"#333333","strokeWidth":1.2},"data":{"values":[{"t":"Intro. AMOD (100%)"}]},"mark":{"type":"text","x":131,"y":16,"font":"Lato","fontSize":16,"align":"center","baseline":"middle","color":"#1a1a1a"},"encoding":{"text":{"field":"t"}}},
      {"width":262,"height":196,"layer":[
       {"data":{"name":"pts"},"transform":[{"filter":"datum.s==='F'"}],"mark":{"type":"circle","size":30,"stroke":"#111111","strokeWidth":0.5,"fillOpacity":0.8,"strokeOpacity":0.8},
        "encoding":{"x":{"field":"x","type":"quantitative","scale":{"domain":[10.5,158],"nice":false,"zero":false},"axis":{"title":null,"values":[20,40,60,80,100,120,140],"labelExpr":"datum.value % 40 === 0 ? datum.label : ''","gridColor":{"condition":{"test":"datum.value % 40 === 0","value":"#e0e0e0"},"value":"#f0f0f0"},"tickColor":{"condition":{"test":"datum.value % 40 === 0","value":"#555555"},"value":"transparent"}}},
         "y":{"field":"y","type":"quantitative","scale":{"domain":[-0.5,11.9],"nice":false,"zero":false},"axis":{"title":null,"values":[0,1.5,3,4.5,6,7.5,9,10.5],"labelExpr":"datum.value % 3 === 0 ? datum.label : ''","gridColor":{"condition":{"test":"datum.value % 3 === 0","value":"#e0e0e0"},"value":"#f0f0f0"},"tickColor":{"condition":{"test":"datum.value % 3 === 0","value":"#555555"},"value":"transparent"}}},
         "color":{"field":"d","type":"quantitative","scale":{"scheme":"viridis","domain":[9.5,104.5],"nice":false,"clamp":true}}}},
       {"data":{"name":"lbl"},"transform":[{"filter":"datum.s==='F' && isValid(datum.px)"}],"mark":{"type":"rule","color":"#111111","strokeWidth":1},"encoding":{"x":{"field":"px","type":"quantitative","scale":{"domain":[10.5,158],"nice":false,"zero":false}},"y":{"field":"py","type":"quantitative","scale":{"domain":[-0.5,11.9],"nice":false,"zero":false}},"x2":{"field":"ex"},"y2":{"field":"ey"}}},
       {"data":{"name":"lbl"},"transform":[{"filter":"datum.s==='F'"}],"mark":{"type":"text","font":"Liberation Sans","fontSize":13,"color":"#111111"},"encoding":{"x":{"field":"x","type":"quantitative","scale":{"domain":[10.5,158],"nice":false,"zero":false}},"y":{"field":"y","type":"quantitative","scale":{"domain":[-0.5,11.9],"nice":false,"zero":false}},"text":{"field":"h"}}}
      ]}
     ]},
     {"spacing":0,"vconcat":[
      {"width":262,"height":31,"view":{"stroke":"#333333","strokeWidth":1.2},"data":{"values":[{"t":"Intro. AMOD (75%)"}]},"mark":{"type":"text","x":131,"y":16,"font":"Lato","fontSize":16,"align":"center","baseline":"middle","color":"#1a1a1a"},"encoding":{"text":{"field":"t"}}},
      {"width":262,"height":196,"layer":[
       {"data":{"name":"pts"},"transform":[{"filter":"datum.s==='S'"}],"mark":{"type":"circle","size":30,"stroke":"#111111","strokeWidth":0.5,"fillOpacity":0.8,"strokeOpacity":0.8},
        "encoding":{"x":{"field":"x","type":"quantitative","scale":{"domain":[10.5,158],"nice":false,"zero":false},"axis":{"title":null,"values":[20,40,60,80,100,120,140],"labelExpr":"datum.value % 40 === 0 ? datum.label : ''","gridColor":{"condition":{"test":"datum.value % 40 === 0","value":"#e0e0e0"},"value":"#f0f0f0"},"tickColor":{"condition":{"test":"datum.value % 40 === 0","value":"#555555"},"value":"transparent"}}},
         "y":{"field":"y","type":"quantitative","scale":{"domain":[-0.5,11.9],"nice":false,"zero":false},"axis":{"title":null,"values":[0,1.5,3,4.5,6,7.5,9,10.5],"labels":false,"ticks":false,"domain":false,"gridColor":{"condition":{"test":"datum.value % 3 === 0","value":"#e0e0e0"},"value":"#f0f0f0"}}},
         "color":{"field":"d","type":"quantitative","scale":{"scheme":"viridis","domain":[9.5,104.5],"nice":false,"clamp":true}}}},
       {"data":{"name":"lbl"},"transform":[{"filter":"datum.s==='S' && isValid(datum.px)"}],"mark":{"type":"rule","color":"#111111","strokeWidth":1},"encoding":{"x":{"field":"px","type":"quantitative","scale":{"domain":[10.5,158],"nice":false,"zero":false}},"y":{"field":"py","type":"quantitative","scale":{"domain":[-0.5,11.9],"nice":false,"zero":false}},"x2":{"field":"ex"},"y2":{"field":"ey"}}},
       {"data":{"name":"lbl"},"transform":[{"filter":"datum.s==='S'"}],"mark":{"type":"text","font":"Liberation Sans","fontSize":13,"color":"#111111"},"encoding":{"x":{"field":"x","type":"quantitative","scale":{"domain":[10.5,158],"nice":false,"zero":false}},"y":{"field":"y","type":"quantitative","scale":{"domain":[-0.5,11.9],"nice":false,"zero":false}},"text":{"field":"h"}}}
      ]}
     ]}
    ]}
   ]}]}]},
{"title":{"text":"(b) Predicted 𝒫𝒫 (Red)","orient":"bottom","font":"DejaVu Serif","fontSize":21,"offset":80,"anchor":"middle"},
 "vconcat":[{"title":{"text":"Accumulation (1000 veh)","orient":"bottom","fontSize":16,"offset":8,"anchor":"middle","dx":15},
  "vconcat":[{"title":{"text":"Trip completion rate (1000 trips/hr)","orient":"left","fontSize":16,"offset":4,"anchor":"middle"},
   "spacing":0,
   "vconcat":[
    {"spacing":3,"hconcat":[
     {"spacing":0,"vconcat":[
      {"width":262,"height":31,"view":{"stroke":"#333333","strokeWidth":1.2},"data":{"values":[{"t":"Baseline"}]},"mark":{"type":"text","x":131,"y":16,"font":"Lato","fontSize":16,"align":"center","baseline":"middle","color":"#1a1a1a"},"encoding":{"text":{"field":"t"}}},
      {"width":262,"height":196,"layer":[
       {"data":{"name":"pts"},"transform":[{"filter":"datum.s==='B'"}],"mark":{"type":"circle","size":30,"stroke":"#111111","strokeWidth":0.5,"fillOpacity":0.8,"strokeOpacity":0.8},
        "encoding":{"x":{"field":"x","type":"quantitative","scale":{"domain":[10.5,158],"nice":false,"zero":false},"axis":{"title":null,"values":[20,40,60,80,100,120,140],"labels":false,"ticks":false,"domain":false,"gridColor":{"condition":{"test":"datum.value % 40 === 0","value":"#e0e0e0"},"value":"#f0f0f0"}}},
         "y":{"field":"y","type":"quantitative","scale":{"domain":[-0.5,11.9],"nice":false,"zero":false},"axis":{"title":null,"values":[0,1.5,3,4.5,6,7.5,9,10.5],"labelExpr":"datum.value % 3 === 0 ? datum.label : ''","gridColor":{"condition":{"test":"datum.value % 3 === 0","value":"#e0e0e0"},"value":"#f0f0f0"},"tickColor":{"condition":{"test":"datum.value % 3 === 0","value":"#555555"},"value":"transparent"}}},
         "color":{"field":"d","type":"quantitative","scale":{"scheme":"viridis","domain":[9.5,104.5],"nice":false,"clamp":true}}}},
       {"data":{"name":"red"},"transform":[{"filter":"datum.s==='B'"}],"mark":{"type":"line","color":"#ff2a2a","strokeWidth":1.3},"encoding":{"x":{"field":"x","type":"quantitative","scale":{"domain":[10.5,158],"nice":false,"zero":false}},"y":{"field":"y","type":"quantitative","scale":{"domain":[-0.5,11.9],"nice":false,"zero":false}},"order":{"field":"i","type":"quantitative"}}},
       {"data":{"name":"lbl"},"transform":[{"filter":"datum.s==='B' && isValid(datum.px)"}],"mark":{"type":"rule","color":"#111111","strokeWidth":1},"encoding":{"x":{"field":"px","type":"quantitative","scale":{"domain":[10.5,158],"nice":false,"zero":false}},"y":{"field":"py","type":"quantitative","scale":{"domain":[-0.5,11.9],"nice":false,"zero":false}},"x2":{"field":"ex"},"y2":{"field":"ey"}}},
       {"data":{"name":"lbl"},"transform":[{"filter":"datum.s==='B'"}],"mark":{"type":"text","font":"Liberation Sans","fontSize":13,"color":"#111111"},"encoding":{"x":{"field":"x","type":"quantitative","scale":{"domain":[10.5,158],"nice":false,"zero":false}},"y":{"field":"y","type":"quantitative","scale":{"domain":[-0.5,11.9],"nice":false,"zero":false}},"text":{"field":"h"}}}
      ]}
     ]},
     {"spacing":0,"vconcat":[
      {"width":262,"height":31,"view":{"stroke":"#333333","strokeWidth":1.2},"data":{"values":[{"t":"Intro. AMOD (125%)"}]},"mark":{"type":"text","x":131,"y":16,"font":"Lato","fontSize":16,"align":"center","baseline":"middle","color":"#1a1a1a"},"encoding":{"text":{"field":"t"}}},
      {"width":262,"height":196,"layer":[
       {"data":{"name":"pts"},"transform":[{"filter":"datum.s==='H'"}],"mark":{"type":"circle","size":30,"stroke":"#111111","strokeWidth":0.5,"fillOpacity":0.8,"strokeOpacity":0.8},
        "encoding":{"x":{"field":"x","type":"quantitative","scale":{"domain":[10.5,158],"nice":false,"zero":false},"axis":{"title":null,"values":[20,40,60,80,100,120,140],"labels":false,"ticks":false,"domain":false,"gridColor":{"condition":{"test":"datum.value % 40 === 0","value":"#e0e0e0"},"value":"#f0f0f0"}}},
         "y":{"field":"y","type":"quantitative","scale":{"domain":[-0.5,11.9],"nice":false,"zero":false},"axis":{"title":null,"values":[0,1.5,3,4.5,6,7.5,9,10.5],"labels":false,"ticks":false,"domain":false,"gridColor":{"condition":{"test":"datum.value % 3 === 0","value":"#e0e0e0"},"value":"#f0f0f0"}}},
         "color":{"field":"d","type":"quantitative","scale":{"scheme":"viridis","domain":[9.5,104.5],"nice":false,"clamp":true}}}},
       {"data":{"name":"red"},"transform":[{"filter":"datum.s==='H'"}],"mark":{"type":"line","color":"#ff2a2a","strokeWidth":1.3},"encoding":{"x":{"field":"x","type":"quantitative","scale":{"domain":[10.5,158],"nice":false,"zero":false}},"y":{"field":"y","type":"quantitative","scale":{"domain":[-0.5,11.9],"nice":false,"zero":false}},"order":{"field":"i","type":"quantitative"}}},
       {"data":{"name":"lbl"},"transform":[{"filter":"datum.s==='H' && isValid(datum.px)"}],"mark":{"type":"rule","color":"#111111","strokeWidth":1},"encoding":{"x":{"field":"px","type":"quantitative","scale":{"domain":[10.5,158],"nice":false,"zero":false}},"y":{"field":"py","type":"quantitative","scale":{"domain":[-0.5,11.9],"nice":false,"zero":false}},"x2":{"field":"ex"},"y2":{"field":"ey"}}},
       {"data":{"name":"lbl"},"transform":[{"filter":"datum.s==='H'"}],"mark":{"type":"text","font":"Liberation Sans","fontSize":13,"color":"#111111"},"encoding":{"x":{"field":"x","type":"quantitative","scale":{"domain":[10.5,158],"nice":false,"zero":false}},"y":{"field":"y","type":"quantitative","scale":{"domain":[-0.5,11.9],"nice":false,"zero":false}},"text":{"field":"h"}}}
      ]}
     ]}
    ]},
    {"spacing":3,"hconcat":[
     {"spacing":0,"vconcat":[
      {"width":262,"height":31,"view":{"stroke":"#333333","strokeWidth":1.2},"data":{"values":[{"t":"Intro. AMOD (100%)"}]},"mark":{"type":"text","x":131,"y":16,"font":"Lato","fontSize":16,"align":"center","baseline":"middle","color":"#1a1a1a"},"encoding":{"text":{"field":"t"}}},
      {"width":262,"height":196,"layer":[
       {"data":{"name":"pts"},"transform":[{"filter":"datum.s==='F'"}],"mark":{"type":"circle","size":30,"stroke":"#111111","strokeWidth":0.5,"fillOpacity":0.8,"strokeOpacity":0.8},
        "encoding":{"x":{"field":"x","type":"quantitative","scale":{"domain":[10.5,158],"nice":false,"zero":false},"axis":{"title":null,"values":[20,40,60,80,100,120,140],"labelExpr":"datum.value % 40 === 0 ? datum.label : ''","gridColor":{"condition":{"test":"datum.value % 40 === 0","value":"#e0e0e0"},"value":"#f0f0f0"},"tickColor":{"condition":{"test":"datum.value % 40 === 0","value":"#555555"},"value":"transparent"}}},
         "y":{"field":"y","type":"quantitative","scale":{"domain":[-0.5,11.9],"nice":false,"zero":false},"axis":{"title":null,"values":[0,1.5,3,4.5,6,7.5,9,10.5],"labelExpr":"datum.value % 3 === 0 ? datum.label : ''","gridColor":{"condition":{"test":"datum.value % 3 === 0","value":"#e0e0e0"},"value":"#f0f0f0"},"tickColor":{"condition":{"test":"datum.value % 3 === 0","value":"#555555"},"value":"transparent"}}},
         "color":{"field":"d","type":"quantitative","scale":{"scheme":"viridis","domain":[9.5,104.5],"nice":false,"clamp":true}}}},
       {"data":{"name":"red"},"transform":[{"filter":"datum.s==='F'"}],"mark":{"type":"line","color":"#ff2a2a","strokeWidth":1.3},"encoding":{"x":{"field":"x","type":"quantitative","scale":{"domain":[10.5,158],"nice":false,"zero":false}},"y":{"field":"y","type":"quantitative","scale":{"domain":[-0.5,11.9],"nice":false,"zero":false}},"order":{"field":"i","type":"quantitative"}}},
       {"data":{"name":"lbl"},"transform":[{"filter":"datum.s==='F' && isValid(datum.px)"}],"mark":{"type":"rule","color":"#111111","strokeWidth":1},"encoding":{"x":{"field":"px","type":"quantitative","scale":{"domain":[10.5,158],"nice":false,"zero":false}},"y":{"field":"py","type":"quantitative","scale":{"domain":[-0.5,11.9],"nice":false,"zero":false}},"x2":{"field":"ex"},"y2":{"field":"ey"}}},
       {"data":{"name":"lbl"},"transform":[{"filter":"datum.s==='F'"}],"mark":{"type":"text","font":"Liberation Sans","fontSize":13,"color":"#111111"},"encoding":{"x":{"field":"x","type":"quantitative","scale":{"domain":[10.5,158],"nice":false,"zero":false}},"y":{"field":"y","type":"quantitative","scale":{"domain":[-0.5,11.9],"nice":false,"zero":false}},"text":{"field":"h"}}}
      ]}
     ]},
     {"spacing":0,"vconcat":[
      {"width":262,"height":31,"view":{"stroke":"#333333","strokeWidth":1.2},"data":{"values":[{"t":"Intro. AMOD (75%)"}]},"mark":{"type":"text","x":131,"y":16,"font":"Lato","fontSize":16,"align":"center","baseline":"middle","color":"#1a1a1a"},"encoding":{"text":{"field":"t"}}},
      {"width":262,"height":196,"layer":[
       {"data":{"name":"pts"},"transform":[{"filter":"datum.s==='S'"}],"mark":{"type":"circle","size":30,"stroke":"#111111","strokeWidth":0.5,"fillOpacity":0.8,"strokeOpacity":0.8},
        "encoding":{"x":{"field":"x","type":"quantitative","scale":{"domain":[10.5,158],"nice":false,"zero":false},"axis":{"title":null,"values":[20,40,60,80,100,120,140],"labelExpr":"datum.value % 40 === 0 ? datum.label : ''","gridColor":{"condition":{"test":"datum.value % 40 === 0","value":"#e0e0e0"},"value":"#f0f0f0"},"tickColor":{"condition":{"test":"datum.value % 40 === 0","value":"#555555"},"value":"transparent"}}},
         "y":{"field":"y","type":"quantitative","scale":{"domain":[-0.5,11.9],"nice":false,"zero":false},"axis":{"title":null,"values":[0,1.5,3,4.5,6,7.5,9,10.5],"labels":false,"ticks":false,"domain":false,"gridColor":{"condition":{"test":"datum.value % 3 === 0","value":"#e0e0e0"},"value":"#f0f0f0"}}},
         "color":{"field":"d","type":"quantitative","scale":{"scheme":"viridis","domain":[9.5,104.5],"nice":false,"clamp":true}}}},
       {"data":{"name":"red"},"transform":[{"filter":"datum.s==='S'"}],"mark":{"type":"line","color":"#ff2a2a","strokeWidth":1.3},"encoding":{"x":{"field":"x","type":"quantitative","scale":{"domain":[10.5,158],"nice":false,"zero":false}},"y":{"field":"y","type":"quantitative","scale":{"domain":[-0.5,11.9],"nice":false,"zero":false}},"order":{"field":"i","type":"quantitative"}}},
       {"data":{"name":"lbl"},"transform":[{"filter":"datum.s==='S' && isValid(datum.px)"}],"mark":{"type":"rule","color":"#111111","strokeWidth":1},"encoding":{"x":{"field":"px","type":"quantitative","scale":{"domain":[10.5,158],"nice":false,"zero":false}},"y":{"field":"py","type":"quantitative","scale":{"domain":[-0.5,11.9],"nice":false,"zero":false}},"x2":{"field":"ex"},"y2":{"field":"ey"}}},
       {"data":{"name":"lbl"},"transform":[{"filter":"datum.s==='S'"}],"mark":{"type":"text","font":"Liberation Sans","fontSize":13,"color":"#111111"},"encoding":{"x":{"field":"x","type":"quantitative","scale":{"domain":[10.5,158],"nice":false,"zero":false}},"y":{"field":"y","type":"quantitative","scale":{"domain":[-0.5,11.9],"nice":false,"zero":false}},"text":{"field":"h"}}}
      ]}
     ]}
    ]}
   ]}]}]}
],
"spacing":20
}
